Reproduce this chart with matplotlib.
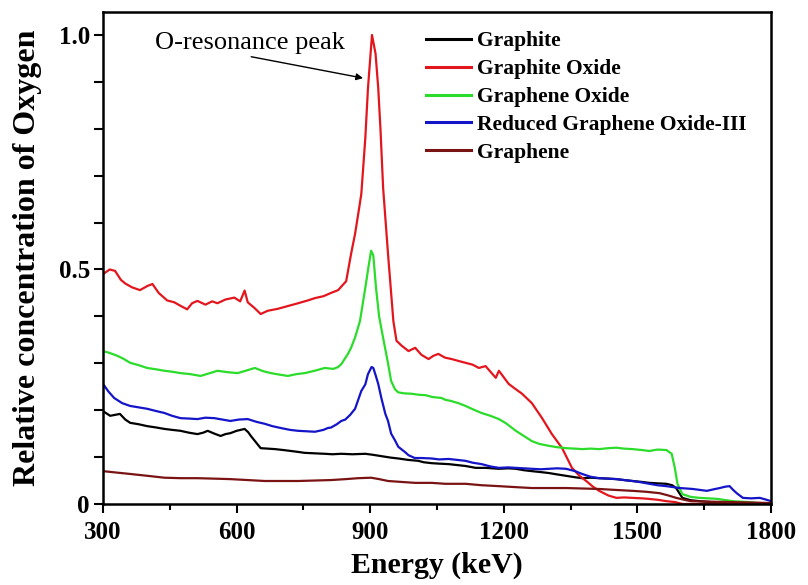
import matplotlib
matplotlib.use("Agg")
import matplotlib.pyplot as plt
from matplotlib.ticker import MultipleLocator

# ---- series data: energy (keV) and relative oxygen concentration ----
x_graphite = [300, 308, 316, 327, 338, 350, 361, 380, 399, 420, 438, 455, 474, 493, 512, 525, 535, 550,
              564, 575, 586, 600, 618, 626, 632, 643, 654, 670, 686, 705, 722, 738, 753, 775, 798, 815,
              835, 860, 889, 905, 925, 945, 963, 985, 1008, 1020, 1038, 1055, 1076, 1095, 1114, 1137,
              1160, 1189, 1210, 1227, 1245, 1263, 1283, 1301, 1320, 1340, 1360, 1376, 1395, 1414, 1435,
              1453, 1470, 1489, 1510, 1527, 1545, 1565, 1578, 1587, 1595, 1601, 1620, 1640, 1680, 1720, 1800]
y_graphite = [0.198, 0.193, 0.188, 0.190, 0.192, 0.180, 0.173, 0.170, 0.166, 0.163, 0.160, 0.158, 0.156,
              0.152, 0.149, 0.152, 0.156, 0.150, 0.145, 0.149, 0.151, 0.156, 0.160, 0.153, 0.145, 0.132,
              0.119, 0.118, 0.117, 0.115, 0.113, 0.111, 0.109, 0.108, 0.107, 0.106, 0.107, 0.106, 0.107,
              0.105, 0.102, 0.099, 0.097, 0.094, 0.092, 0.089, 0.087, 0.086, 0.085, 0.083, 0.081, 0.077,
              0.077, 0.075, 0.076, 0.075, 0.072, 0.070, 0.068, 0.066, 0.063, 0.060, 0.057, 0.055, 0.056,
              0.055, 0.054, 0.053, 0.051, 0.049, 0.047, 0.045, 0.044, 0.043, 0.040, 0.034, 0.022, 0.013,
              0.008, 0.006, 0.003, 0.001, 0.000]

x_graphite_oxide = [300, 315, 327, 340, 350, 365, 383, 400, 411, 425, 444, 460, 475, 489, 500, 512, 530,
                    545, 557, 575, 595, 608, 618, 625, 640, 654, 670, 692, 715, 738, 760, 776, 795, 812,
                    828, 846, 857, 866, 875, 880, 889, 895, 904, 912, 918, 923, 929, 940, 952, 959, 970,
                    986, 1001, 1015, 1031, 1042, 1053, 1068, 1083, 1098, 1114, 1130, 1144, 1159, 1170,
                    1182, 1189, 1200, 1211, 1225, 1241, 1263, 1286, 1308, 1331, 1353, 1370, 1385, 1400,
                    1414, 1435, 1453, 1470, 1489, 1510, 1524, 1545, 1565, 1585, 1601, 1650, 1700, 1750, 1800]
y_graphite_oxide = [0.490, 0.500, 0.497, 0.478, 0.470, 0.462, 0.456, 0.465, 0.469, 0.450, 0.434, 0.430,
                    0.422, 0.415, 0.428, 0.433, 0.425, 0.432, 0.428, 0.436, 0.440, 0.432, 0.455, 0.430,
                    0.418, 0.405, 0.412, 0.416, 0.422, 0.428, 0.434, 0.439, 0.443, 0.450, 0.456, 0.475,
                    0.533, 0.576, 0.630, 0.661, 0.780, 0.887, 1.000, 0.960, 0.887, 0.800, 0.674, 0.533,
                    0.390, 0.348, 0.338, 0.326, 0.333, 0.318, 0.309, 0.316, 0.320, 0.312, 0.309, 0.305,
                    0.301, 0.297, 0.290, 0.294, 0.282, 0.269, 0.284, 0.270, 0.256, 0.246, 0.235, 0.215,
                    0.183, 0.149, 0.119, 0.077, 0.060, 0.049, 0.037, 0.028, 0.018, 0.013, 0.014, 0.013,
                    0.012, 0.011, 0.009, 0.006, 0.004, 0.000, 0.000, 0.000, 0.000, 0.000]

x_graphene_oxide = [300, 315, 332, 345, 361, 380, 399, 420, 438, 455, 474, 495, 519, 540, 557, 580, 602,
                    620, 641, 660, 677, 695, 715, 735, 753, 775, 798, 817, 828, 835, 850, 857, 866, 877,
                    889, 896, 902, 907, 913, 920, 929, 940, 947, 956, 963, 975, 993, 1008, 1024, 1040,
                    1060, 1069, 1080, 1098, 1114, 1128, 1140, 1150, 1170, 1189, 1205, 1227, 1245, 1263,
                    1280, 1301, 1320, 1340, 1360, 1376, 1395, 1414, 1435, 1453, 1470, 1489, 1510, 1527,
                    1545, 1565, 1577, 1584, 1590, 1601, 1620, 1640, 1678, 1714, 1750, 1790, 1800]
y_graphene_oxide = [0.326, 0.322, 0.316, 0.310, 0.301, 0.296, 0.290, 0.287, 0.284, 0.282, 0.279, 0.277,
                    0.273, 0.279, 0.284, 0.281, 0.279, 0.284, 0.290, 0.283, 0.279, 0.276, 0.273, 0.277,
                    0.279, 0.284, 0.290, 0.288, 0.292, 0.298, 0.320, 0.333, 0.355, 0.390, 0.461, 0.505,
                    0.540, 0.530, 0.461, 0.400, 0.354, 0.300, 0.262, 0.244, 0.238, 0.236, 0.235, 0.233,
                    0.232, 0.228, 0.226, 0.222, 0.220, 0.215, 0.209, 0.203, 0.198, 0.194, 0.188, 0.181,
                    0.172, 0.156, 0.145, 0.134, 0.128, 0.124, 0.121, 0.119, 0.118, 0.117, 0.118, 0.117,
                    0.119, 0.120, 0.118, 0.117, 0.115, 0.113, 0.116, 0.115, 0.107, 0.077, 0.043, 0.021,
                    0.015, 0.013, 0.011, 0.006, 0.004, 0.000, 0.000]

x_rgo = [300, 312, 325, 343, 361, 380, 399, 420, 438, 455, 474, 495, 512, 530, 550, 568, 586, 605, 625,
         645, 663, 680, 699, 720, 738, 757, 776, 795, 805, 812, 825, 835, 844, 855, 866, 880, 889, 895,
         903, 907, 912, 918, 925, 934, 940, 947, 956, 963, 979, 986, 1000, 1015, 1038, 1055, 1076, 1095,
         1114, 1130, 1150, 1170, 1189, 1210, 1227, 1245, 1263, 1283, 1301, 1320, 1340, 1360, 1376, 1395,
         1414, 1435, 1453, 1470, 1489, 1510, 1527, 1545, 1565, 1580, 1595, 1610, 1624, 1640, 1656, 1670,
         1685, 1698, 1707, 1715, 1723, 1737, 1755, 1775, 1790, 1800]
y_rgo = [0.256, 0.240, 0.226, 0.215, 0.209, 0.206, 0.203, 0.198, 0.194, 0.188, 0.183, 0.182, 0.181,
         0.184, 0.183, 0.180, 0.177, 0.180, 0.181, 0.175, 0.171, 0.166, 0.162, 0.158, 0.156, 0.155,
         0.154, 0.158, 0.162, 0.163, 0.170, 0.177, 0.180, 0.190, 0.203, 0.241, 0.255, 0.277, 0.292,
         0.290, 0.275, 0.256, 0.226, 0.192, 0.177, 0.150, 0.135, 0.122, 0.110, 0.104, 0.098, 0.098,
         0.097, 0.095, 0.096, 0.094, 0.092, 0.088, 0.085, 0.080, 0.077, 0.078, 0.077, 0.076, 0.075,
         0.074, 0.075, 0.076, 0.075, 0.070, 0.064, 0.058, 0.055, 0.054, 0.053, 0.051, 0.049, 0.046,
         0.043, 0.040, 0.038, 0.036, 0.034, 0.033, 0.032, 0.030, 0.028, 0.031, 0.034, 0.037, 0.038,
         0.030, 0.023, 0.013, 0.012, 0.013, 0.009, 0.006]

x_graphene = [300, 330, 361, 400, 438, 475, 512, 550, 586, 625, 663, 700, 738, 775, 812, 845, 873, 902,
              920, 940, 970, 1001, 1038, 1069, 1114, 1150, 1189, 1225, 1263, 1300, 1340, 1376, 1414, 1450,
              1489, 1520, 1550, 1570, 1587, 1605, 1620, 1660, 1714, 1760, 1800]
y_graphene = [0.070, 0.067, 0.064, 0.060, 0.056, 0.055, 0.055, 0.054, 0.053, 0.051, 0.049, 0.049, 0.049,
              0.050, 0.051, 0.053, 0.055, 0.056, 0.053, 0.049, 0.047, 0.045, 0.045, 0.043, 0.043, 0.040,
              0.038, 0.036, 0.034, 0.034, 0.034, 0.033, 0.032, 0.030, 0.028, 0.026, 0.023, 0.018, 0.013,
              0.009, 0.006, 0.005, 0.004, 0.003, 0.002]

labels = ["Graphite", "Graphite Oxide", "Graphene Oxide", "Reduced Graphene Oxide-III", "Graphene"]
colors = ["#000000", "#e3161e", "#2bdc2b", "#1414c8", "#7a1414"]

x_ticks = [300, 600, 900, 1200, 1500, 1800]
y_ticks = [0, 0.5, 1.0]
y_ticklabels = ["0", "0.5", "1.0"]

# ---- figure ----
plt.rcParams["font.family"] = ["Liberation Serif", "DejaVu Serif"]
fig = plt.figure(figsize=(8.08, 5.85), dpi=100)
ax = fig.add_axes([0.1275, 0.1385, 0.8267, 0.841])

series = [(x_graphite, y_graphite), (x_graphite_oxide, y_graphite_oxide),
          (x_graphene_oxide, y_graphene_oxide), (x_rgo, y_rgo), (x_graphene, y_graphene)]
for (xs, ys), lab, col in zip(series, labels, colors):
    ax.plot(xs, ys, color=col, lw=1.6, label=lab)

ax.set_xlim(300, 1800)
ax.set_ylim(0, 1.049)
ax.set_xticks(x_ticks)
ax.xaxis.set_minor_locator(MultipleLocator(150))
ax.set_yticks(y_ticks)
ax.set_yticklabels(y_ticklabels)
ax.yaxis.set_minor_locator(MultipleLocator(0.1))

for s in ax.spines.values():
    s.set_linewidth(1.8)
ax.tick_params(which="major", direction="out", length=6.5, width=1.5, labelsize=18, pad=3)
ax.tick_params(axis="x", which="major", pad=6)
ax.tick_params(which="minor", direction="out", length=4, width=1.5)
ax.tick_params(axis="y", which="minor", length=6.5)
for t in ax.get_xticklabels() + ax.get_yticklabels():
    t.set_fontweight("bold")

ax.set_xlabel("Energy (keV)", fontsize=21.5, fontweight="bold", labelpad=5)
ax.set_ylabel("Relative concentration of Oxygen", fontsize=23, fontweight="bold", labelpad=12)

ax.annotate("O-resonance peak", xy=(884, 0.908), xytext=(630, 0.983),
            fontsize=19, ha="center", va="center",
            arrowprops=dict(arrowstyle="-|>", color="black", lw=1.0, mutation_scale=10,
                            shrinkA=0, shrinkB=0, relpos=(0.43, 0.0)))

leg = ax.legend(loc="upper left", bbox_to_anchor=(0.47, 0.978), frameon=False,
                prop={"weight": "bold", "size": 15.5}, handlelength=2.1, handletextpad=0.3,
                labelspacing=0.36, borderaxespad=0)
for h in leg.get_lines():
    h.set_linewidth(2.2)

fig.savefig("out.png", dpi=100)
